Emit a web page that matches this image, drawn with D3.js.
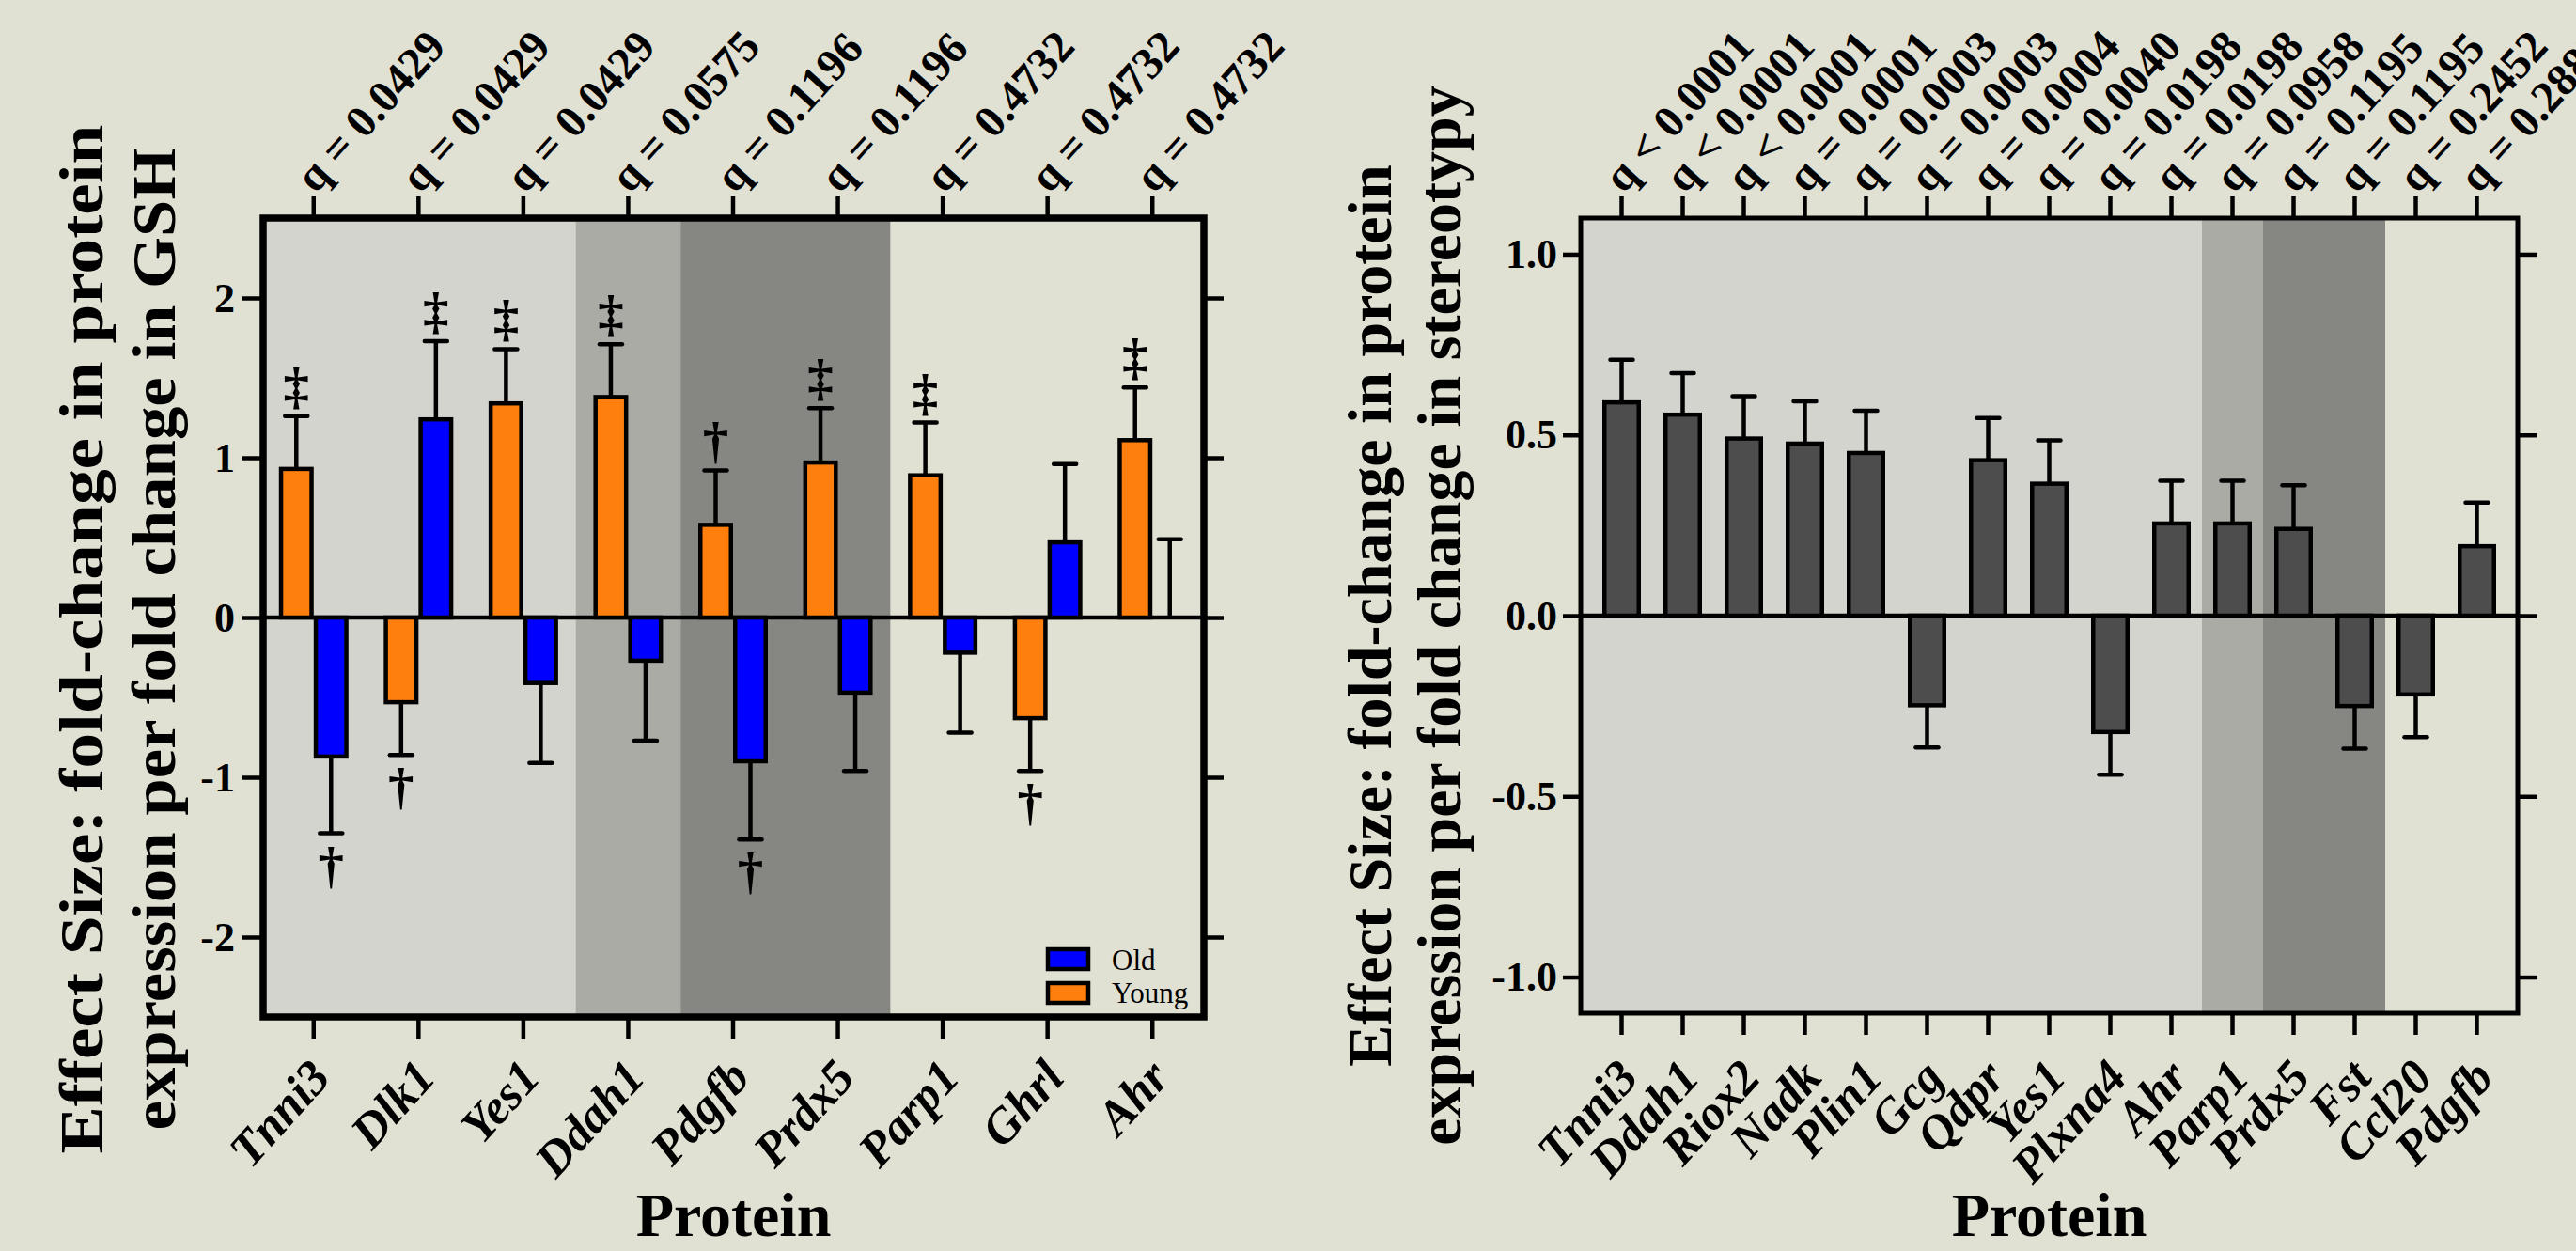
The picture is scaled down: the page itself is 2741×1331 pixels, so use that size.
<!DOCTYPE html>
<meta charset="utf-8">
<head>
  <meta charset="utf-8">
  <title>Effect size per protein</title>
</head>
<style>
body { margin: 0; background: #e0e0d3; }
svg text { font-family: 'Liberation Serif', 'Times New Roman', serif; }
</style>
<body>
<div id="chart"></div>

<script src="https://cdn.jsdelivr.net/npm/d3@7"></script>
<script>

// ---- data: left panel (GSH, Old vs Young) ----
var gshProteins = ["Tnni3", "Dlk1", "Yes1", "Ddah1", "Pdgfb", "Prdx5", "Parp1", "Ghrl", "Ahr"]
var gshQ = ["q = 0.0429", "q = 0.0429", "q = 0.0429", "q = 0.0575", "q = 0.1196",
            "q = 0.1196", "q = 0.4732", "q = 0.4732", "q = 0.4732"]
var gshYoung    = [0.93, -0.53, 1.34, 1.38, 0.58, 0.97, 0.89, -0.63, 1.11]
var gshYoungErr = [0.33, 0.33, 0.34, 0.33, 0.34, 0.34, 0.33, 0.33, 0.33]
var gshOld      = [-0.87, 1.24, -0.41, -0.27, -0.90, -0.47, -0.22, 0.47, 0.0]
var gshOldErr   = [0.48, 0.49, 0.50, 0.50, 0.49, 0.49, 0.50, 0.49, 0.49]
var gshYoungMark = ["‡", "†", "‡", "‡", "†", "‡", "‡", "†", "‡"]
var gshOldMark   = ["†", "‡", "", "", "†", "", "", "", ""]
var gshTier = [0, 0, 0, 1, 2, 2, 3, 3, 3]
var gshTicks = [-2, -1, 0, 1, 2]

// ---- data: right panel (stereotypy) ----
var stProteins = ["Tnni3", "Ddah1", "Riox2", "Nadk", "Plin1", "Gcg", "Qdpr", "Yes1",
                  "Plxna4", "Ahr", "Parp1", "Prdx5", "Fst", "Ccl20", "Pdgfb"]
var stQ = ["q < 0.0001", "q < 0.0001", "q < 0.0001", "q = 0.0001", "q = 0.0003",
           "q = 0.0003", "q = 0.0004", "q = 0.0040", "q = 0.0198", "q = 0.0198",
           "q = 0.0958", "q = 0.1195", "q = 0.1195", "q = 0.2452", "q = 0.2883"]
var stVals = [0.59, 0.556, 0.49, 0.476, 0.45, -0.248, 0.43, 0.365, -0.322, 0.255,
              0.255, 0.24, -0.25, -0.218, 0.192]
var stErr  = [0.118, 0.115, 0.117, 0.117, 0.117, 0.117, 0.117, 0.12, 0.118, 0.118,
              0.118, 0.121, 0.118, 0.118, 0.121]
var stTier = [0, 0, 0, 0, 0, 0, 0, 0, 0, 0, 1, 2, 2, 3, 3]
var stTicks = [-1, -0.5, 0, 0.5, 1]

var groups = ["Old", "Young"]
var groupColor = { Old: "#0000ff", Young: "#ff7f0e" }
var tierColor = ["#d3d4ce", "#aaaba5", "#868782", null]

var W = 2741, H = 1331

var svg = d3.select('#chart').append('svg')
    .attr('width', W)
    .attr('height', H)
    .style('display', 'block')

svg.append('rect').attr('width', W).attr('height', H).attr('fill', '#e0e0d3')

// plain hyphen for negative tick labels, like the original
function hyphen(f) { return function (d) { return f(d).replace('\u2212', '-') } }

// draws frame, shading, axes and titles; returns scales
function drawPanel(o) {
    var g = svg.append('g')
    var x = d3.scaleBand().domain(o.proteins).range([o.bx0, o.bx1])
    var y = d3.scaleLinear().domain(o.domain).range([o.y1, o.y0])

    // shaded q tiers, merged into runs
    var runs = []
    o.tiers.forEach(function (t, i) {
        var last = runs[runs.length - 1]
        if (last && last.t === t) { last.end = i } else { runs.push({ t: t, start: i, end: i }) }
    })
    runs.forEach(function (r) {
        if (tierColor[r.t] == null) return
        var a = r.start === 0 ? o.x0 : x(o.proteins[r.start])
        var b = r.end === o.proteins.length - 1 ? o.x1 : x(o.proteins[r.end]) + x.step()
        g.append('rect')
            .attr('x', a).attr('y', o.y0)
            .attr('width', b - a).attr('height', o.y1 - o.y0)
            .attr('fill', tierColor[r.t])
    })

    // zero line
    g.append('line')
        .attr('x1', o.x0).attr('x2', o.x1)
        .attr('y1', y(0)).attr('y2', y(0))
        .attr('stroke', '#000').attr('stroke-width', 4.5)

    function styleAxis(sel) {
        sel.select('.domain').remove()
        sel.selectAll('.tick line').attr('stroke', '#000').attr('stroke-width', 4.5)
        sel.attr('font-family', null).attr('font-size', null)
    }

    // y axes
    g.append('g')
        .attr('transform', 'translate(' + o.x0 + ',0)')
        .call(d3.axisLeft(y).tickValues(o.ticks).tickSize(o.tickL).tickPadding(o.padL).tickFormat(hyphen(o.fmt)))
        .call(styleAxis)
        .selectAll('text')
        .attr('font-size', 44).attr('font-weight', 'bold').attr('fill', '#000')

    g.append('g')
        .attr('transform', 'translate(' + o.x1 + ',0)')
        .call(d3.axisRight(y).tickValues(o.ticks).tickSize(21).tickFormat(''))
        .call(styleAxis)

    // top axis with q values
    g.append('g')
        .attr('transform', 'translate(0,' + o.y0 + ')')
        .call(d3.axisTop(x).tickSize(23).tickSizeOuter(0).tickFormat(function (d, i) { return o.q[i] }))
        .call(styleAxis)
        .selectAll('text')
        .attr('y', 0).attr('dy', null)
        .attr('transform', 'translate(2,-25) rotate(-48)')
        .attr('text-anchor', 'start')
        .attr('font-size', 48).attr('font-weight', 'bold').attr('fill', '#000')

    // bottom axis with protein names
    g.append('g')
        .attr('transform', 'translate(0,' + o.y1 + ')')
        .call(d3.axisBottom(x).tickSize(23).tickSizeOuter(0))
        .call(styleAxis)
        .selectAll('text')
        .attr('y', 0).attr('dy', null)
        .attr('transform', 'translate(20,' + o.labDy + ') rotate(-48)')
        .attr('text-anchor', 'end')
        .attr('font-size', 52).attr('font-weight', 'bold').attr('font-style', 'italic').attr('fill', '#000')

    // frame
    g.append('rect')
        .attr('x', o.x0).attr('y', o.y0)
        .attr('width', o.x1 - o.x0).attr('height', o.y1 - o.y0)
        .attr('fill', 'none').attr('stroke', '#000').attr('stroke-width', o.frameW)

    // axis titles
    var cy = o.titleCy
    o.yTitle.forEach(function (t, i) {
        g.append('text')
            .attr('transform', 'translate(' + o.titleX[i] + ',' + cy + ') rotate(-90)')
            .attr('text-anchor', 'middle')
            .attr('font-size', 66).attr('font-weight', 'bold')
            .attr('textLength', o.titleLen ? o.titleLen[i] : null)
            .attr('lengthAdjust', o.titleLen ? 'spacingAndGlyphs' : null)
            .text(t)
    })
    g.append('text')
        .attr('x', (o.x0 + o.x1) / 2).attr('y', 1315)
        .attr('text-anchor', 'middle')
        .attr('font-size', 66).attr('font-weight', 'bold')
        .text('Protein')

    return { g: g, x: x, y: y }
}

function errorBar(layer, cx, y, v, e) {
    var end = v >= 0 ? v + e : v - e
    layer.append('line')
        .attr('x1', cx).attr('x2', cx).attr('y1', y(v)).attr('y2', y(end))
        .attr('stroke', '#000').attr('stroke-width', 4.5)
    layer.append('line')
        .attr('x1', cx - 12).attr('x2', cx + 12).attr('y1', y(end)).attr('y2', y(end))
        .attr('stroke', '#000').attr('stroke-width', 4.5).attr('stroke-linecap', 'round')
    return end
}

// ---------- left panel ----------
var L = drawPanel({
    proteins: gshProteins, q: gshQ, tiers: gshTier, domain: [-2.5, 2.5], ticks: gshTicks,
    fmt: d3.format('d'),
    x0: 280, x1: 1281, bx0: 278, bx1: 1282, y0: 232, y1: 1082,
    tickL: 22, padL: 8, frameW: 7.5, labDy: 66,
    yTitle: ['Effect Size:  fold-change in protein', 'expression per fold change in GSH'],
    titleX: [109, 186], titleCy: 680, titleLen: [1095, 1045]
})

var gshRows = gshProteins.map(function (p, i) {
    return [
        { p: p, grp: 'Young', v: gshYoung[i], e: gshYoungErr[i], m: gshYoungMark[i], off: -18.5 },
        { p: p, grp: 'Old', v: gshOld[i], e: gshOldErr[i], m: gshOldMark[i], off: 18.5 }
    ]
}).flat()

var barsL = L.g.append('g')
gshRows.forEach(function (d) {
    var cx = L.x(d.p) + L.x.bandwidth() / 2 + d.off
    var end = errorBar(barsL, cx, L.y, d.v, d.e)
    if (d.m) {
        barsL.append('text')
            .attr('x', cx).attr('y', d.v >= 0 ? L.y(end) - 14 : L.y(end) + 52)
            .attr('text-anchor', 'middle')
            .attr('font-family', 'DejaVu Sans').attr('font-weight', 'bold').attr('font-size', 55)
            .text(d.m)
    }
})
barsL.selectAll('rect.bar')
    .data(gshRows.filter(function (d) { return d.v !== 0 }))
    .enter().append('rect')
    .attr('class', 'bar')
    .attr('x', function (d) { return L.x(d.p) + L.x.bandwidth() / 2 + d.off - 16.25 })
    .attr('width', 32.5)
    .attr('y', function (d) { return Math.min(L.y(d.v), L.y(0)) })
    .attr('height', function (d) { return Math.abs(L.y(d.v) - L.y(0)) })
    .attr('fill', function (d) { return groupColor[d.grp] })
    .attr('stroke', '#000').attr('stroke-width', 4.5)

// legend
var legend = L.g.append('g')
groups.forEach(function (k, i) {
    legend.append('rect')
        .attr('x', 1115).attr('y', 1010 + i * 36)
        .attr('width', 43).attr('height', 21)
        .attr('fill', groupColor[k]).attr('stroke', '#000').attr('stroke-width', 4.5)
    legend.append('text')
        .attr('x', 1183).attr('y', 1032 + i * 35)
        .attr('font-family', 'Liberation Sans, Arial, sans-serif').attr('font-size', 31)
        .text(k)
})

// ---------- right panel ----------
var R = drawPanel({
    proteins: stProteins, q: stQ, tiers: stTier, domain: [-1.1, 1.1], ticks: stTicks,
    fmt: d3.format('.1f'),
    x0: 1682, x1: 2679, bx0: 1693, bx1: 2668, y0: 232, y1: 1078,
    tickL: 19, padL: 6, frameW: 5, labDy: 70,
    yTitle: ['Effect Size: fold-change in protein', 'expression per fold change in stereotypy'],
    titleX: [1480, 1554], titleCy: 655, titleLen: null
})

var stRows = stProteins.map(function (p, i) { return { p: p, v: stVals[i], e: stErr[i] } })
var barsR = R.g.append('g')
stRows.forEach(function (d) {
    errorBar(barsR, R.x(d.p) + R.x.bandwidth() / 2, R.y, d.v, d.e)
})
barsR.selectAll('rect.bar')
    .data(stRows)
    .enter().append('rect')
    .attr('class', 'bar')
    .attr('x', function (d) { return R.x(d.p) + R.x.bandwidth() / 2 - 18.25 })
    .attr('width', 36.5)
    .attr('y', function (d) { return Math.min(R.y(d.v), R.y(0)) })
    .attr('height', function (d) { return Math.abs(R.y(d.v) - R.y(0)) })
    .attr('fill', '#4d4d4d')
    .attr('stroke', '#000').attr('stroke-width', 4.5)

</script>
</body>
